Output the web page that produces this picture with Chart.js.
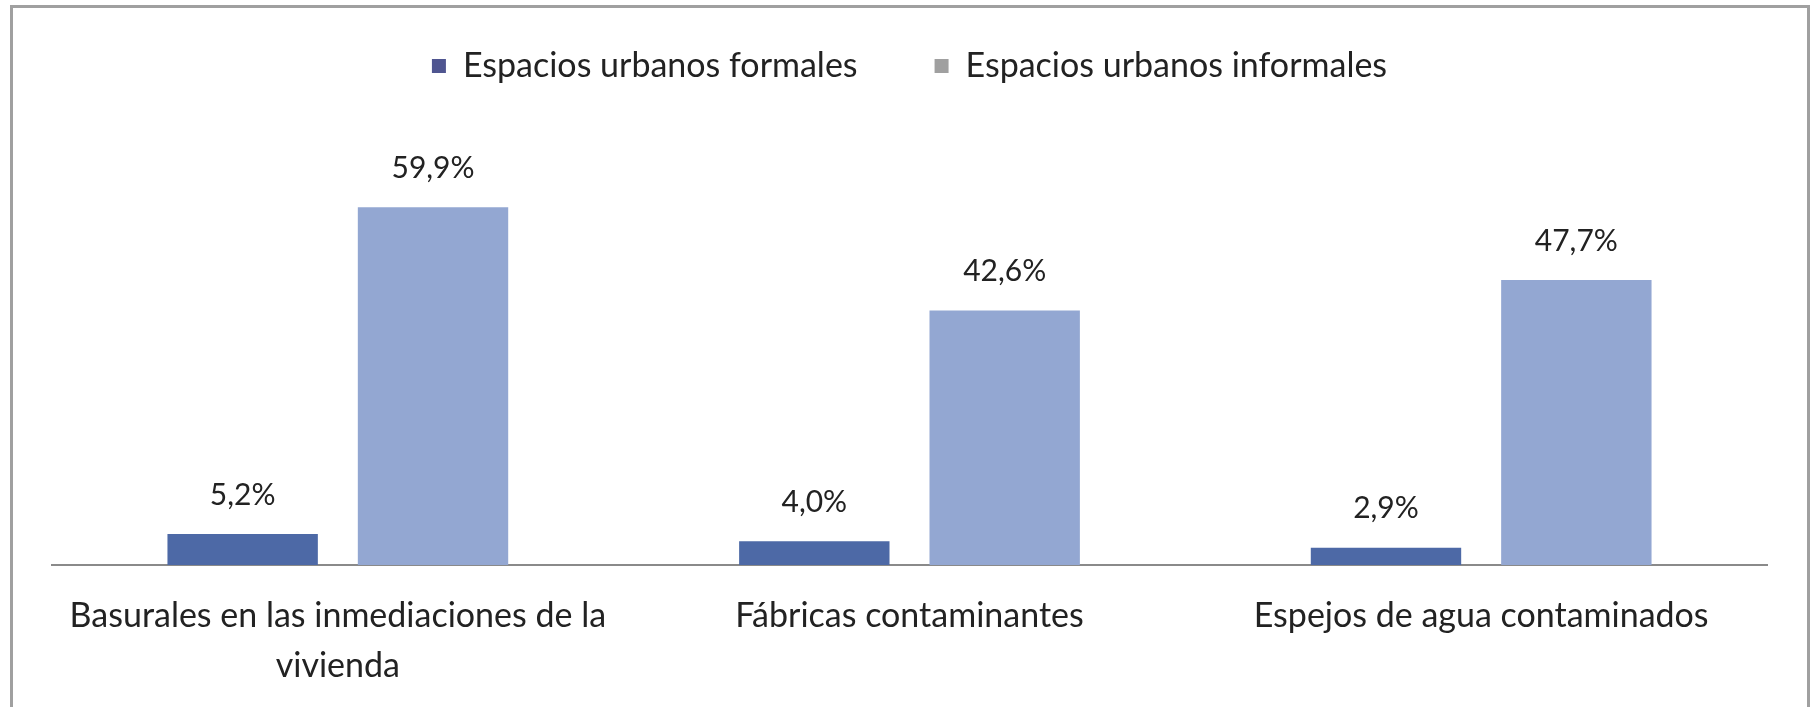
<!DOCTYPE html>
<html>
<head>
<meta charset="utf-8">
<script src="https://cdn.jsdelivr.net/npm/chart.js@4"></script>
<style>
  html, body { margin: 0; padding: 0; background: #fff; }
  #wrap { position: relative; width: 1819px; height: 707px; overflow: hidden; }
  #frame { position: absolute; left: 10px; top: 5px; width: 1800px; height: 760px; border: 3px solid #a0a0a0; box-sizing: border-box; }
  #cv { position: absolute; left: 0; top: 0; }
</style>
</head>
<body>
<div id="wrap">
  <div id="frame"></div>
  <canvas id="cv" width="1819" height="707"></canvas>
</div>
<script>
const categories = [
  ["Basurales en las inmediaciones de la", "vivienda"],
  "Fábricas contaminantes",
  "Espejos de agua contaminados"
];
const seriesNames = ["Espacios urbanos formales", "Espacios urbanos informales"];
const formalValues = [5.2, 4.0, 2.9];
const informalValues = [59.9, 42.6, 47.7];

const FONT = "Lato, 'Open Sans', sans-serif";
const barColors = ["#4d69a6", "#93a7d2"];
const legendColors = ["#4f5590", "#a0a0a0"];

const valueLabels = {
  id: "valueLabels",
  afterDatasetsDraw(chart) {
    const ctx = chart.ctx;
    ctx.save();
    ctx.font = "30px " + FONT;
    ctx.fillStyle = "#222";
    ctx.textAlign = "center";
    ctx.textBaseline = "middle";
    chart.data.datasets.forEach((ds, di) => {
      const meta = chart.getDatasetMeta(di);
      meta.data.forEach((bar, i) => {
        const txt = ds.data[i].toFixed(1).replace(".", ",") + "%";
        ctx.fillText(txt, bar.x, bar.y - 39);
      });
    });
    ctx.restore();
  }
};

new Chart(document.getElementById("cv"), {
  type: "bar",
  data: {
    labels: categories,
    datasets: [
      { label: seriesNames[0], data: formalValues, backgroundColor: barColors[0], barPercentage: 0.79, categoryPercentage: 0.666 },
      { label: seriesNames[1], data: informalValues, backgroundColor: barColors[1], barPercentage: 0.79, categoryPercentage: 0.666 }
    ]
  },
  options: {
    responsive: false,
    animation: false,
    layout: { padding: { left: 52, right: 52, top: -28, bottom: -2 } },
    plugins: {
      legend: {
        position: "top",
        labels: {
          font: { family: FONT, size: 34 },
          color: "#222",
          boxWidth: 14,
          boxHeight: 14,
          padding: 77,
          generateLabels(chart) {
            return chart.data.datasets.map((ds, i) => ({
              text: ds.label,
              fillStyle: legendColors[i],
              strokeStyle: legendColors[i],
              lineWidth: 0,
              datasetIndex: i,
              fontColor: "#222"
            }));
          }
        }
      },
      tooltip: { enabled: false }
    },
    scales: {
      x: {
        grid: { display: false },
        border: { color: "#8a8a8a", width: 2 },
        ticks: { font: { family: FONT, size: 34, lineHeight: 1.47 }, color: "#222", padding: 18, maxRotation: 0 }
      },
      y: {
        display: false,
        min: 0,
        max: 79
      }
    }
  },
  plugins: [valueLabels]
});
</script>
</body>
</html>
